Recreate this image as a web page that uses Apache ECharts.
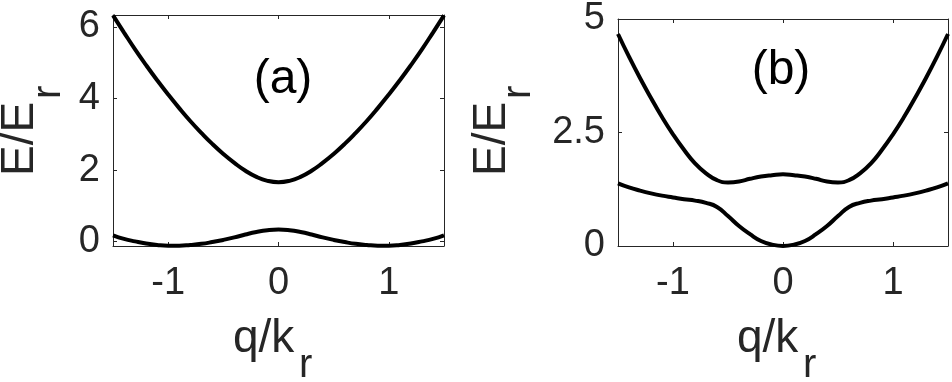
<!DOCTYPE html>
<html>
<head>
<meta charset="utf-8">
<script src="https://cdn.jsdelivr.net/npm/echarts@6/dist/echarts.min.js"></script>
<style>
  html, body { margin: 0; padding: 0; background: #fff; }
  #chart { width: 952px; height: 382px; }
</style>
</head>
<body>
<div id="chart"></div>
<script>
// quasi-momentum samples shared by both panels
const qValues = [-1.5, -1.4, -1.3, -1.2, -1.1, -1.0, -0.9, -0.8, -0.7, -0.6, -0.5, -0.4, -0.3, -0.2, -0.1, 0,
  0.1, 0.2, 0.3, 0.4, 0.5, 0.6, 0.7, 0.8, 0.9, 1.0, 1.1, 1.2, 1.3, 1.4, 1.5]

// panel (a) bands
const lowerA = [0.18, 0.08, 0.01, -0.05, -0.09, -0.11, -0.11, -0.09, -0.06, -0.01, 0.05, 0.12, 0.20, 0.27, 0.32, 0.34,
  0.32, 0.27, 0.20, 0.12, 0.05, -0.01, -0.06, -0.09, -0.11, -0.11, -0.09, -0.05, 0.01, 0.08, 0.18]
const upperA = [6.32, 5.84, 5.37, 4.93, 4.51, 4.11, 3.73, 3.37, 3.04, 2.73, 2.45, 2.20, 1.98, 1.81, 1.70, 1.66,
  1.70, 1.81, 1.98, 2.20, 2.45, 2.73, 3.04, 3.37, 3.73, 4.11, 4.51, 4.93, 5.37, 5.84, 6.32]

// panel (b) bands
const lowerB = [1.38, 1.29, 1.22, 1.16, 1.11, 1.07, 1.03, 1.00, 0.95, 0.86, 0.66, 0.44, 0.26, 0.11, 0.03, 0.00,
  0.03, 0.11, 0.26, 0.44, 0.66, 0.86, 0.95, 1.00, 1.03, 1.07, 1.11, 1.16, 1.22, 1.29, 1.38]
const upperB = [4.67, 4.17, 3.70, 3.26, 2.84, 2.46, 2.12, 1.82, 1.60, 1.45, 1.40, 1.42, 1.48, 1.53, 1.56, 1.58,
  1.56, 1.53, 1.48, 1.42, 1.40, 1.45, 1.60, 1.82, 2.12, 2.46, 2.84, 3.26, 3.70, 4.17, 4.67]

// tick labels
const xTicks = [-1, 0, 1]
const yTicksA = [0, 2, 4, 6]
const yTicksB = [0, 2.5, 5]

const FONT = 'Liberation Sans, Arial, sans-serif'
const INK = '#262626'

const chart = echarts.init(document.getElementById('chart'), null, { renderer: 'canvas' })

const pairs = (ys) => qValues.map((q, i) => [q, ys[i]])

// one axis of the box; "labels" only on the bottom/left sides
const makeX = (gridIndex, position, labels) => ({
  type: 'value',
  gridIndex,
  position,
  min: -1.5,
  max: 1.5,
  axisLine: { show: true, onZero: false, lineStyle: { color: INK, width: 1 } },
  axisTick: { show: true, inside: true, length: 4, customValues: xTicks, lineStyle: { color: INK } },
  axisLabel: {
    show: labels,
    customValues: xTicks,
    margin: 19,
    fontSize: 38,
    fontFamily: FONT,
    color: INK,
  },
  splitLine: { show: false },
})

const makeY = (gridIndex, position, labels, min, max, ticks) => ({
  type: 'value',
  gridIndex,
  position,
  min,
  max,
  axisLine: { show: true, onZero: false, lineStyle: { color: INK, width: 1 } },
  axisTick: { show: true, inside: true, length: 4, customValues: ticks, lineStyle: { color: INK } },
  axisLabel: {
    show: labels,
    customValues: ticks,
    margin: 13,
    fontSize: 38,
    fontFamily: FONT,
    color: INK,
  },
  splitLine: { show: false },
})

const band = (xAxisIndex, yAxisIndex, ys) => ({
  type: 'line',
  xAxisIndex,
  yAxisIndex,
  data: pairs(ys),
  smooth: true,
  showSymbol: false,
  silent: true,
  lineStyle: { color: '#000', width: 4 },
})

// text pieces for axis titles and panel letters
const txt = (text, x, y, size, extra) => Object.assign({
  type: 'text',
  x,
  y,
  style: {
    text,
    fontSize: size,
    fontFamily: FONT,
    fill: INK,
    textAlign: 'left',
    textVerticalAlign: 'middle',
  },
}, extra || {})

const option = {
  backgroundColor: '#fff',
  animation: false,
  grid: [
    { left: 113, top: 15, width: 331, height: 231 },
    { left: 618, top: 15, width: 330, height: 231 },
  ],
  xAxis: [
    makeX(0, 'bottom', true),
    makeX(0, 'top', false),
    makeX(1, 'bottom', true),
    makeX(1, 'top', false),
  ],
  yAxis: [
    makeY(0, 'left', true, -0.12, 6.33, yTicksA),
    makeY(0, 'right', false, -0.12, 6.33, yTicksA),
    makeY(1, 'left', true, 0, 5, yTicksB),
    makeY(1, 'right', false, 0, 5, yTicksB),
  ],
  series: [
    band(0, 0, lowerA),
    band(0, 0, upperA),
    band(2, 2, lowerB),
    band(2, 2, upperB),
  ],
  graphic: [
    // panel (a) labels
    txt('q/k', 233, 339, 46),
    txt('r', 299, 366, 40),
    txt('E/E', 20, 176, 46, { rotation: Math.PI / 2 }),
    txt('r', 49, 99, 40, { rotation: Math.PI / 2 }),
    txt('(a)', 283, 80, 48, { style: { text: '(a)', fontSize: 48, fontFamily: FONT, fill: '#000', textAlign: 'center', textVerticalAlign: 'middle' } }),
    // panel (b) labels
    txt('q/k', 737, 339, 46),
    txt('r', 803, 366, 40),
    txt('E/E', 492, 176, 46, { rotation: Math.PI / 2 }),
    txt('r', 519, 99, 40, { rotation: Math.PI / 2 }),
    txt('(b)', 781, 71, 48, { style: { text: '(b)', fontSize: 48, fontFamily: FONT, fill: '#000', textAlign: 'center', textVerticalAlign: 'middle' } }),
  ],
}

chart.setOption(option)
</script>
</body>
</html>
